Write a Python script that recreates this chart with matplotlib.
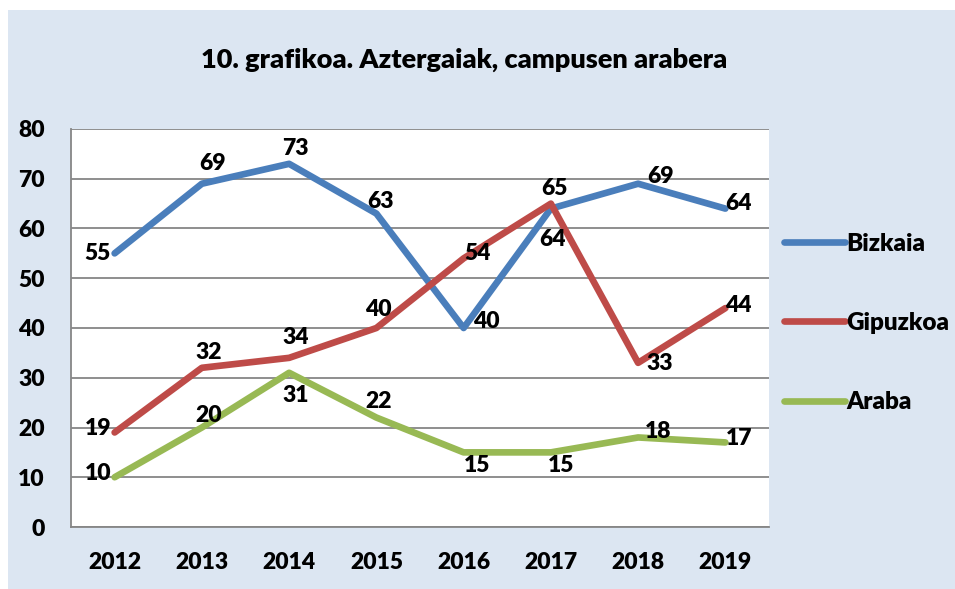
import matplotlib
matplotlib.use("Agg")
import matplotlib.pyplot as plt
from matplotlib.patches import Rectangle

plt.rcParams['font.family'] = ['Lato', 'DejaVu Sans']
W = 800  # heavy weight
plt.rcParams['font.weight'] = W

years = ['2012', '2013', '2014', '2015', '2016', '2017', '2018', '2019']
bizkaia = [55, 69, 73, 63, 40, 64, 69, 64]
gipuzkoa = [19, 32, 34, 40, 54, 65, 33, 44]
araba = [10, 20, 31, 22, 15, 15, 18, 17]
series_names = ['Bizkaia', 'Gipuzkoa', 'Araba']
title = '10. grafikoa. Aztergaiak, campusen arabera'

colors = ['#4A7EBB', '#BE4B48', '#98B954']

# label offsets in pixels (dx, dy up positive)
offs = [
    [(-4, 0, 'right'), (11, 20, 'center'), (6, 15, 'center'), (4, 12, 'center'),
     (23, 7, 'center'), (2, -31, 'center'), (22, 7, 'center'), (13, 5, 'center')],
    [(-16, 4, 'center'), (7, 15, 'center'), (7, 20, 'center'), (2, 18, 'center'),
     (14, 5, 'center'), (4, 15, 'center'), (22, -1, 'center'), (13, 3, 'center')],
    [(-16, 4, 'center'), (7, 12, 'center'), (7, -23, 'center'), (2, 16, 'center'),
     (13, -13, 'center'), (10, -13, 'center'), (20, 6, 'center'), (14, 4, 'center')],
]

fig = plt.figure(figsize=(9.55, 5.89), dpi=100)
fig.patch.set_facecolor('white')
fig.patches.append(Rectangle((8 / 955, 0), 1, (589 - 10) / 589, transform=fig.transFigure,
                             facecolor='#DCE6F2', edgecolor='none', zorder=-10))

ax = fig.add_axes([71 / 955, (589 - 527) / 589, (769 - 71) / 955, (527 - 129) / 589])
ax.set_facecolor('white')

x = list(range(len(years)))
lines = []
for data, c, name, off in zip([bizkaia, gipuzkoa, araba], colors, series_names, offs):
    ln, = ax.plot(x, data, color=c, lw=4.8, solid_capstyle='round', solid_joinstyle='round',
                  label=name, zorder=3)
    lines.append(ln)
    for xi, v, (dx, dy, ha) in zip(x, data, off):
        ax.annotate(str(v), (xi, v), xytext=(dx, dy), textcoords='offset pixels',
                    ha=ha, va='center', fontsize=16.5, fontweight=W, color='black', zorder=4)

ax.set_xlim(-0.5, len(years) - 0.5)
ax.set_ylim(0, 80)
ax.set_yticks(range(0, 81, 10))
ax.set_xticks(x)
ax.set_xticklabels(years)
ax.yaxis.grid(True, color='#868686', lw=1.3)
ax.set_axisbelow(True)
ax.tick_params(axis='both', length=0, labelsize=16.5)
ax.tick_params(axis='y', pad=19)
ax.tick_params(axis='x', pad=18)
for lab in ax.get_xticklabels() + ax.get_yticklabels():
    lab.set_fontweight(W)
for s in ['top', 'right']:
    ax.spines[s].set_visible(False)
for s in ['left', 'bottom']:
    ax.spines[s].set_color('#868686')
    ax.spines[s].set_linewidth(1.3)

fig.text(464 / 955, (589 - 60) / 589, title, ha='center', va='center', fontsize=19.5, fontweight=W)

leg = fig.legend(handles=lines, labels=series_names, loc='center left',
                 bbox_to_anchor=(762 / 955, (589 - 323) / 589), frameon=False,
                 fontsize=17.5, handlelength=2.5, handletextpad=0.05, labelspacing=2.35)
for t in leg.get_texts():
    t.set_fontweight(W)

fig.savefig('out.png', dpi=100, facecolor=fig.get_facecolor())
